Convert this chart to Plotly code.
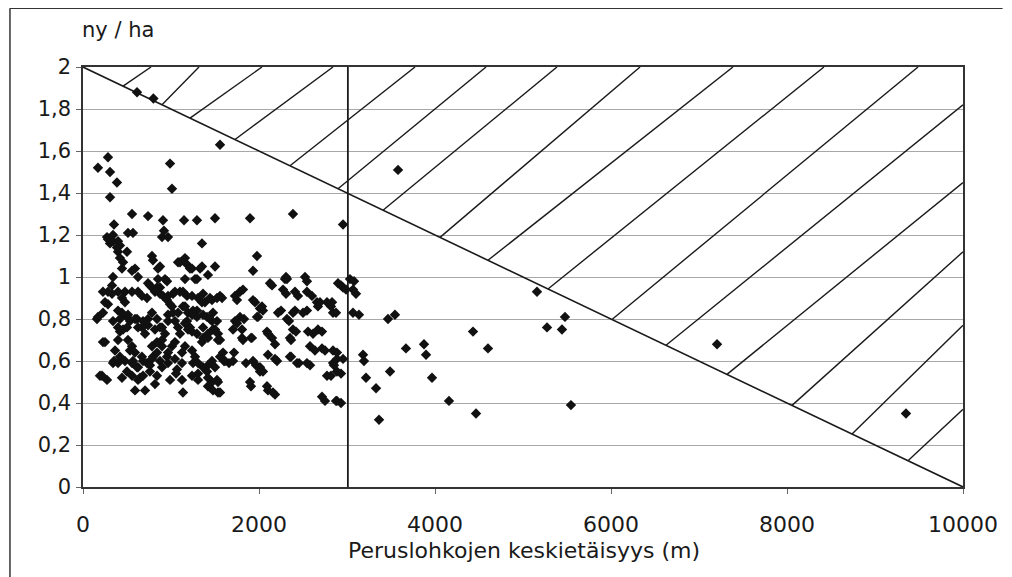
import plotly.graph_objects as go
import numpy as np

# ---- data: scatter points (x = Peruslohkojen keskietäisyys m, y = ny/ha) ----
dist_m = [
    614, 800, 1557, 284, 170, 307, 386, 989, 1011, 307,
    3580, 557, 739, 909, 1148, 1295, 1500, 1898, 2386, 2955,
    352, 511, 568, 920, 898, 966, 273, 307, 341, 1352,
    284, 341, 398, 386, 420, 398, 500, 420, 455, 443,
    784, 795, 875, 1080, 1159, 1182, 1239, 1352, 1500, 1977,
    1932, 591, 625, 341, 330, 1420, 1295, 955, 1159, 761,
    852, 1330, 1102, 1216, 557, 852, 932, 1273, 2125, 2307,
    2523, 2273, 2409, 2545, 2898, 2955, 3034, 3068, 2148, 2318,
    2545, 2307, 2443, 2602, 2932, 2989, 3080, 3102, 227, 398,
    477, 557, 625, 443, 739, 841, 909, 966, 1023, 1136,
    1182, 1364, 1466, 1557, 1727, 1784, 1818, 1932, 1580, 2295,
    875, 727, 784, 818, 875, 1045, 1102, 1239, 1307, 1386,
    1443, 1523, 670, 284, 330, 1750, 1955, 2045, 2034, 2659,
    2773, 2841, 3068, 3136, 3466, 3545, 2250, 2409, 2545, 2693,
    2830, 2875, 2670, 2818, 5159, 5273, 5443, 5477, 4432, 4602,
    3670, 3875, 3898, 2841, 2886, 2841, 2886, 3182, 3193, 3489,
    3216, 3966, 3330, 2886, 4159, 5545, 4466, 3364, 7205, 9352,
    284, 227, 170, 443, 341, 398, 500, 534, 614, 670,
    705, 784, 739, 841, 875, 955, 989, 966, 1023, 1045,
    1080, 1136, 1193, 1182, 1250, 1295, 1364, 1409, 1466, 1477,
    1557, 1216, 1295, 1364, 1727, 1784, 1705, 1807, 1807, 1920,
    2011, 1977, 2091, 2148, 2216, 2318, 2386, 2500, 2386, 2352,
    2557, 2670, 2580, 2716, 1750, 1830, 1989, 2341, 2420, 2364,
    2102, 2182, 1909, 1818, 2614, 2716, 2636, 2750, 2886, 2955,
    2852, 2932, 2818, 2364, 2455, 2580, 2205, 2102, 1557, 1602,
    1659, 1716, 1852, 1966, 2011, 2045, 1534, 1534, 1909, 2102,
    2182, 2750, 2932, 1534, 227, 364, 341, 420, 534, 568,
    614, 670, 216, 273, 443, 500, 648, 591, 705, 818,
    761, 795, 875, 955, 989, 1068, 1125, 1136, 1250, 1307,
    1364, 1409, 1420, 1466, 1523, 1557, 1500, 1591, 1614, 1705,
    1932, 2011, 1898, 2091, 2159, 2182, 2352, 2432, 2545, 2773,
    2716, 2875, 250, 159, 398, 477, 511, 591, 420, 420,
    455, 500, 250, 398, 511, 557, 591, 625, 682, 739,
    818, 898, 932, 966, 1011, 1080, 1159, 1239, 1295, 1352,
    1443, 1500, 1420, 1159, 1193, 1102, 1045, 966, 898, 841,
    784, 727, 682, 625, 557, 477, 398, 352, 557, 625,
    682, 761, 841, 898, 966, 1045, 1125, 1159, 1239, 1273,
    1307, 1420, 1466, 1057, 1125, 1239, 1307, 1420, 193, 1477,
    898, 784, 841, 1011, 1352, 1420, 1239, 1364, 1534, 1523, 1477,
]
ny_per_ha = [
    1.88, 1.85, 1.63, 1.57, 1.52, 1.50, 1.45, 1.54, 1.42, 1.38,
    1.51, 1.30, 1.29, 1.27, 1.27, 1.27, 1.28, 1.28, 1.30, 1.25,
    1.25, 1.21, 1.21, 1.22, 1.19, 1.19, 1.19, 1.16, 1.20, 1.16,
    1.18, 1.17, 1.17, 1.14, 1.15, 1.12, 1.12, 1.09, 1.07, 1.04,
    1.10, 1.08, 1.05, 1.07, 1.09, 1.06, 1.04, 1.05, 1.05, 1.10,
    1.03, 1.04, 1.00, 1.00, 0.96, 1.01, 0.99, 0.98, 0.99, 0.96,
    1.04, 1.04, 1.07, 1.04, 1.03, 0.99, 0.99, 0.99, 0.97, 1.00,
    1.00, 0.94, 0.93, 0.93, 0.97, 0.95, 0.99, 0.94, 0.96, 0.99,
    0.98, 0.92, 0.91, 0.91, 0.96, 0.94, 0.98, 0.92, 0.93, 0.93,
    0.93, 0.93, 0.93, 0.90, 0.97, 0.95, 0.91, 0.91, 0.92, 0.93,
    0.91, 0.92, 0.89, 0.91, 0.91, 0.93, 0.94, 0.89, 0.90, 0.99,
    0.95, 0.90, 0.95, 0.93, 0.92, 0.93, 0.93, 0.91, 0.90, 0.88,
    0.90, 0.90, 0.91, 0.93, 0.92, 0.89, 0.88, 0.84, 0.86, 0.88,
    0.88, 0.83, 0.83, 0.82, 0.80, 0.82, 0.84, 0.84, 0.84, 0.88,
    0.88, 0.83, 0.86, 0.86, 0.93, 0.76, 0.75, 0.81, 0.74, 0.66,
    0.66, 0.68, 0.63, 0.65, 0.61, 0.59, 0.55, 0.63, 0.60, 0.55,
    0.52, 0.52, 0.47, 0.41, 0.41, 0.39, 0.35, 0.32, 0.68, 0.35,
    0.87, 0.83, 0.81, 0.83, 0.79, 0.76, 0.81, 0.79, 0.80, 0.76,
    0.73, 0.83, 0.80, 0.80, 0.76, 0.89, 0.87, 0.82, 0.83, 0.79,
    0.76, 0.86, 0.83, 0.79, 0.84, 0.81, 0.82, 0.81, 0.79, 0.75,
    0.70, 0.76, 0.73, 0.71, 0.79, 0.81, 0.75, 0.75, 0.71, 0.71,
    0.85, 0.81, 0.74, 0.71, 0.83, 0.80, 0.83, 0.83, 0.75, 0.71,
    0.74, 0.75, 0.67, 0.66, 0.78, 0.80, 0.81, 0.79, 0.74, 0.70,
    0.73, 0.68, 0.71, 0.70, 0.73, 0.74, 0.65, 0.65, 0.64, 0.61,
    0.58, 0.54, 0.53, 0.62, 0.59, 0.58, 0.60, 0.63, 0.62, 0.60,
    0.59, 0.64, 0.59, 0.58, 0.55, 0.55, 0.50, 0.45, 0.48, 0.46,
    0.44, 0.41, 0.40, 0.70, 0.69, 0.65, 0.59, 0.62, 0.65, 0.60,
    0.57, 0.62, 0.53, 0.51, 0.52, 0.55, 0.52, 0.46, 0.46, 0.49,
    0.58, 0.62, 0.60, 0.62, 0.51, 0.56, 0.59, 0.45, 0.59, 0.54,
    0.57, 0.55, 0.52, 0.50, 0.51, 0.45, 0.57, 0.64, 0.60, 0.60,
    0.60, 0.57, 0.50, 0.48, 0.45, 0.61, 0.62, 0.59, 0.59, 0.53,
    0.43, 0.41, 0.88, 0.80, 0.84, 0.88, 0.82, 0.80, 0.80, 0.74,
    0.75, 0.76, 0.69, 0.70, 0.70, 0.67, 0.64, 0.76, 0.79, 0.77,
    0.75, 0.76, 0.73, 0.79, 0.86, 0.83, 0.86, 0.82, 0.84, 0.88,
    0.80, 0.75, 0.73, 0.78, 0.75, 0.73, 0.69, 0.64, 0.67, 0.64,
    0.61, 0.59, 0.60, 0.57, 0.59, 0.60, 0.59, 0.60, 0.53, 0.51,
    0.53, 0.55, 0.53, 0.57, 0.59, 0.61, 0.64, 0.67, 0.65, 0.62,
    0.59, 0.58, 0.60, 0.54, 0.51, 0.53, 0.51, 0.48, 0.53, 0.46,
    0.70, 0.67, 0.69, 0.67, 0.69, 0.71, 0.74, 0.76, 0.73, 0.79, 0.83,
]
assert len(dist_m) == len(ny_per_ha)

# ---- reference lines ----
limit_x = [0, 10000]          # diagonal limit line
limit_y = [2, 0]
divider_x = [3010, 3010]      # vertical divider
divider_y = [0, 2]

# ---- hatch strokes: start on the diagonal, end on top / right edge ----
hatch_start_x = [455, 898, 1216, 1727, 2352, 2898, 3409, 4057, 4602, 5284,
                 6011, 6625, 7318, 8057, 8739, 9375]
hatch_end_x = [773, 1318, 2034, 2841, 3773, 4580, 5386, 6330, 7386, 8420,
               9489, 10000, 10000, 10000, 10000, 10000]
hatch_end_y = [2, 2, 2, 2, 2, 2, 2, 2, 2, 2,
               2, 1.82, 1.45, 1.12, 0.77, 0.37]

# ---- tick labels ----
x_ticks = [0, 2000, 4000, 6000, 8000, 10000]
x_ticklabels = ["0", "2000", "4000", "6000", "8000", "10000"]
y_ticks = [0, 0.2, 0.4, 0.6, 0.8, 1.0, 1.2, 1.4, 1.6, 1.8, 2.0]
y_ticklabels = ["0", "0,2", "0,4", "0,6", "0,8", "1", "1,2", "1,4", "1,6", "1,8", "2"]

hx, hy = [], []
for x0, x1, y1 in zip(hatch_start_x, hatch_end_x, hatch_end_y):
    y0 = float(np.interp(x0, limit_x, limit_y))
    hx += [x0, x1, None]
    hy += [y0, y1, None]

FONT = "DejaVu Sans"
INK = "#1a1a1a"

fig = go.Figure()
fig.add_trace(go.Scatter(x=hx, y=hy, mode="lines",
                         line=dict(color=INK, width=1.4), hoverinfo="skip"))
fig.add_trace(go.Scatter(x=limit_x, y=limit_y, mode="lines",
                         line=dict(color=INK, width=1.6), hoverinfo="skip"))
fig.add_trace(go.Scatter(x=divider_x, y=divider_y, mode="lines",
                         line=dict(color=INK, width=1.8), hoverinfo="skip"))
fig.add_trace(go.Scatter(x=dist_m, y=ny_per_ha, mode="markers",
                         marker=dict(symbol="diamond", size=8, color="#111111",
                                     line=dict(width=0))))

fig.update_layout(
    width=1012, height=577,
    margin=dict(l=75, r=57, t=59, b=98),
    paper_bgcolor="white", plot_bgcolor="white",
    showlegend=False,
    font=dict(family=FONT, size=19, color=INK),
    xaxis=dict(range=[0, 10000], tickvals=x_ticks, ticktext=x_ticklabels,
               showgrid=False, zeroline=False,
               showline=True, linecolor="#333", linewidth=1.5, mirror=True,
               ticks="outside", ticklen=5, tickcolor="#666",
               tickfont=dict(family=FONT, size=22, color=INK),
               ticklabelstandoff=12),
    yaxis=dict(range=[0, 2], tickvals=y_ticks, ticktext=y_ticklabels,
               showgrid=True, gridcolor="#a8a8a8", gridwidth=1.4, zeroline=False,
               showline=True, linecolor="#333", linewidth=1.5, mirror=True,
               ticks="outside", ticklen=5, tickcolor="#666",
               tickfont=dict(family=FONT, size=21, color=INK),
               ticklabelstandoff=1),
    annotations=[
        dict(text="ny / ha", xref="paper", yref="paper", x=-0.003, y=1.088,
             xanchor="left", yanchor="middle", showarrow=False,
             font=dict(family=FONT, size=21, color=INK)),
        dict(text="Peruslohkojen keskietäisyys (m)", xref="paper", yref="paper",
             x=0.501, y=-0.152, xanchor="center", yanchor="middle",
             showarrow=False, font=dict(family=FONT, size=22, color=INK)),
    ],
    shapes=[
        dict(type="line", xref="paper", yref="paper", x0=-0.083, x1=-0.083,
             y0=1.14, y1=-0.3, line=dict(color="#333", width=1.5)),
        dict(type="line", xref="paper", yref="paper", x0=-0.083, x1=1.045,
             y0=1.14, y1=1.14, line=dict(color="#333", width=1.5)),
    ],
)

fig.write_html("out.html")
